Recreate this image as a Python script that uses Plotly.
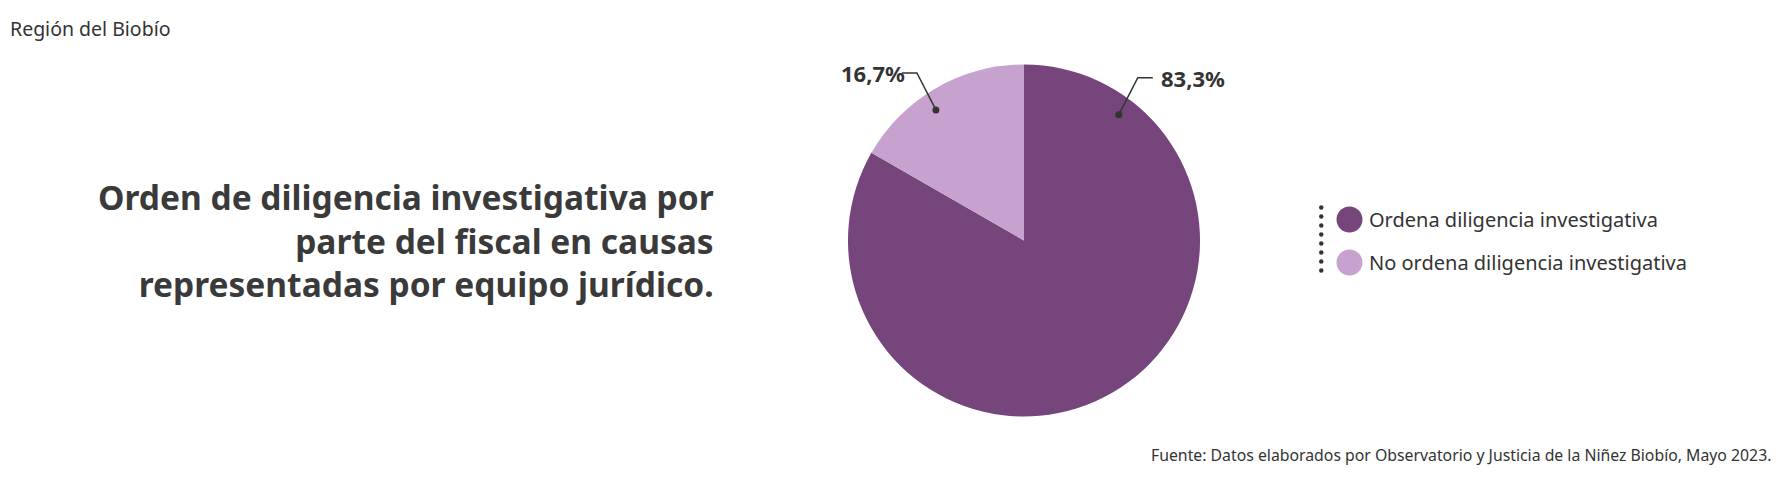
import math
import plotly.graph_objects as go

# data
categories = ["Ordena diligencia investigativa", "No ordena diligencia investigativa"]
values = [83.3, 16.7]
value_labels = ["83,3%", "16,7%"]
colors = ["#75457C", "#C7A2CF"]

# page is 1792x477 but the html body has an 8px margin, so the figure is smaller
OFF = 8
W, H = 1792 - 2 * OFF, 477 - 2 * OFF
FONT = "Noto Sans"
TEXT = "#333333"

# pie geometry in page pixels
cx, cy, r = 1024, 240.5, 176


def px(x):
    return (x - OFF) / W


def py(y):
    return 1 - (y - OFF) / H


fig = go.Figure()
fig.add_trace(go.Pie(
    labels=categories,
    values=values,
    marker=dict(colors=colors, line=dict(width=0)),
    sort=False,
    direction="clockwise",
    rotation=0,
    textinfo="none",
    hoverinfo="label+percent",
    showlegend=False,
    domain=dict(x=[px(cx - r), px(cx + r)], y=[py(cy + r), py(cy - r)]),
))

shapes = []
annotations = []

# label callouts: anchor angle (deg, clockwise from top) for each slice
label_angles = [37, 326]
for ang, lab in zip(label_angles, value_labels):
    a = math.radians(ang)
    dx, dy = cx + 0.895 * r * math.sin(a), cy - 0.895 * r * math.cos(a)
    side = 1 if math.sin(a) > 0 else -1
    ex, ey = dx + side * 19, dy - 37
    hx = ex + side * 15
    shapes.append(dict(type="path", xref="paper", yref="paper",
                       path=f"M {px(dx)} {py(dy)} L {px(ex)} {py(ey)} L {px(hx)} {py(ey)}",
                       line=dict(color=TEXT, width=1.5)))
    shapes.append(dict(type="circle", xref="paper", yref="paper",
                       x0=px(dx - 3.5), x1=px(dx + 3.5), y0=py(dy + 3.5), y1=py(dy - 3.5),
                       fillcolor=TEXT, line=dict(width=0)))
    annotations.append(dict(x=px(hx + (6 if side > 0 else 5)), y=py(ey), xref="paper", yref="paper",
                            text=f"<b>{lab}</b>", showarrow=False,
                            xanchor="left" if side > 0 else "right", yanchor="middle",
                            font=dict(family=FONT, size=22, color=TEXT)))

# custom legend
leg_x, leg_y0, leg_dy = 1349.5, 219.5, 43
for i, (cat, col) in enumerate(zip(categories, colors)):
    y = leg_y0 + i * leg_dy
    shapes.append(dict(type="circle", xref="paper", yref="paper",
                       x0=px(leg_x - 13), x1=px(leg_x + 13), y0=py(y + 13), y1=py(y - 13),
                       fillcolor=col, line=dict(width=0)))
    annotations.append(dict(x=px(leg_x + 17), y=py(y), xref="paper", yref="paper",
                            text=cat, showarrow=False, xanchor="left", yanchor="middle",
                            font=dict(family=FONT, size=20, color=TEXT)))
for k in range(8):
    y = 207.5 + k * 9
    shapes.append(dict(type="circle", xref="paper", yref="paper",
                       x0=px(1319), x1=px(1323.5), y0=py(y + 2.25), y1=py(y - 2.25),
                       fillcolor=TEXT, line=dict(width=0)))

annotations += [
    dict(x=0, y=py(28.5), xref="paper", yref="paper", text="Región del Biobío",
         showarrow=False, xanchor="left", yanchor="middle",
         font=dict(family=FONT, size=19.5, color=TEXT)),
    dict(x=px(716), y=py(240), xref="paper", yref="paper",
         text="<b>Orden de diligencia investigativa por<br>parte del fiscal en causas<br>"
              "representadas por equipo jurídico.</b>",
         showarrow=False, xanchor="right", yanchor="middle", align="right",
         font=dict(family=FONT, size=33.5, color="#3a3a3a")),
    dict(x=px(1773), y=py(455), xref="paper", yref="paper",
         text="Fuente: Datos elaborados por Observatorio y Justicia de la Niñez Biobío, Mayo 2023.",
         showarrow=False, xanchor="right", yanchor="middle",
         font=dict(family=FONT, size=15.8, color=TEXT)),
]

fig.update_layout(
    width=W, height=H,
    margin=dict(l=0, r=0, t=0, b=0),
    paper_bgcolor="white", plot_bgcolor="white",
    shapes=shapes, annotations=annotations,
)

fig.write_html("out.html")
